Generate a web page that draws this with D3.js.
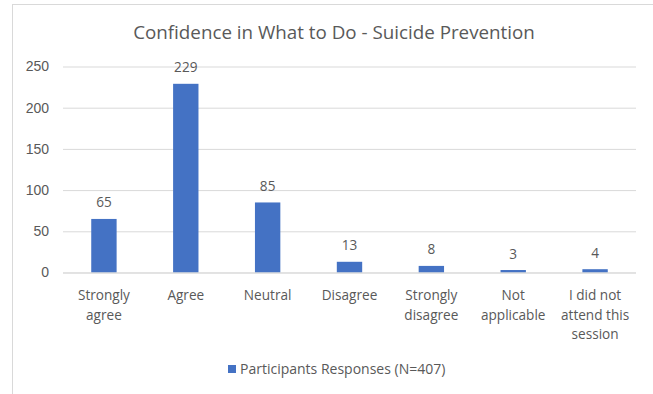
<!DOCTYPE html>
<html>
<head>
<meta charset="utf-8">
<script src="https://cdn.jsdelivr.net/npm/d3@7"></script>
<style>
  html, body { margin: 0; padding: 0; background: #fff; }
  svg { display: block; font-family: "Open Sans", "Noto Sans", sans-serif; }
</style>
</head>
<body>
<svg id="chart" width="653" height="394"></svg>
<script>
// Survey responses
const categories = ["Strongly agree", "Agree", "Neutral", "Disagree", "Strongly disagree", "Not applicable", "I did not attend this session"];
const responses = [65, 229, 85, 13, 8, 3, 4];
const yTicks = [0, 50, 100, 150, 200, 250];
const seriesName = "Participants Responses (N=407)";
const chartTitle = "Confidence in What to Do - Suicide Prevention";

const W = 653, H = 394;
const margin = { left: 63, right: 17, top: 66.5, bottom: 121.5 };
const textColor = "#595959";
const gridColor = "#d9d9d9";
const barColor = "#4472C4";
const labelSize = "13.6px";

const svg = d3.select("#chart");

// chart area frame
svg.append("rect")
  .attr("x", 12.5).attr("y", 4.5)
  .attr("width", W + 20).attr("height", H + 20)
  .attr("fill", "#fff")
  .attr("stroke", gridColor).attr("stroke-width", 1);

const x = d3.scaleBand()
  .domain(categories)
  .range([margin.left, W - margin.right])
  .paddingInner(0.69)
  .paddingOuter(0.345);

const y = d3.scaleLinear()
  .domain([0, 250])
  .range([H - margin.bottom, margin.top]);

// gridlines + y tick labels
const yAxis = d3.axisLeft(y)
  .tickValues(yTicks)
  .tickSize(-(W - margin.right - margin.left))
  .tickPadding(14);

const gy = svg.append("g")
  .attr("transform", `translate(${margin.left},0)`)
  .call(yAxis);
gy.select(".domain").remove();
gy.selectAll(".tick line").attr("stroke", gridColor).attr("stroke-width", 1);
gy.selectAll(".tick text")
  .attr("fill", textColor)
  .style("font-size", "14px");

// bars
svg.append("g").selectAll("rect")
  .data(responses)
  .join("rect")
  .attr("x", (d, i) => x(categories[i]))
  .attr("y", d => y(d))
  .attr("width", x.bandwidth())
  .attr("height", d => y(0) - y(d))
  .attr("fill", barColor);

// value labels
svg.append("g").selectAll("text")
  .data(responses)
  .join("text")
  .attr("x", (d, i) => x(categories[i]) + x.bandwidth() / 2)
  .attr("y", d => y(d) - 11.5)
  .attr("text-anchor", "middle")
  .attr("fill", textColor)
  .style("font-size", labelSize)
  .text(d => d);

// x axis line
svg.append("line")
  .attr("x1", margin.left).attr("x2", W - margin.right)
  .attr("y1", y(0) + 0.5).attr("y2", y(0) + 0.5)
  .attr("stroke", gridColor);

// category labels, wrapped to the category width
const maxLabelWidth = x.step() - 4;
const xl = svg.append("g").selectAll("text")
  .data(categories)
  .join("text")
  .attr("x", d => x(d) + x.bandwidth() / 2)
  .attr("y", 300)
  .attr("text-anchor", "middle")
  .attr("fill", textColor)
  .style("font-size", labelSize);

xl.each(function (d) {
  const t = d3.select(this);
  const cx = +t.attr("x");
  const words = d.split(" ");
  const lines = [];
  let cur = [];
  const probe = t.append("tspan");
  words.forEach(w => {
    const trial = cur.concat(w).join(" ");
    probe.text(trial);
    if (cur.length && probe.node().getComputedTextLength() > maxLabelWidth) {
      lines.push(cur.join(" "));
      cur = [w];
    } else {
      cur.push(w);
    }
  });
  if (cur.length) lines.push(cur.join(" "));
  probe.remove();
  lines.forEach((ln, i) => {
    t.append("tspan")
      .attr("x", cx)
      .attr("dy", i === 0 ? 0 : 19.5)
      .text(ln);
  });
});

// title
svg.append("text")
  .attr("x", 334)
  .attr("y", 39)
  .attr("text-anchor", "middle")
  .attr("fill", textColor)
  .style("font-size", "18.8px")
  .text(chartTitle);

// legend
const legend = svg.append("g").attr("transform", "translate(0,369)");
legend.append("text")
  .attr("x", 240)
  .attr("y", 5)
  .attr("fill", textColor)
  .style("font-size", "14px")
  .text(seriesName);
legend.append("rect")
  .attr("x", 228).attr("y", -4)
  .attr("width", 8).attr("height", 8)
  .attr("fill", barColor);
</script>
</body>
</html>
